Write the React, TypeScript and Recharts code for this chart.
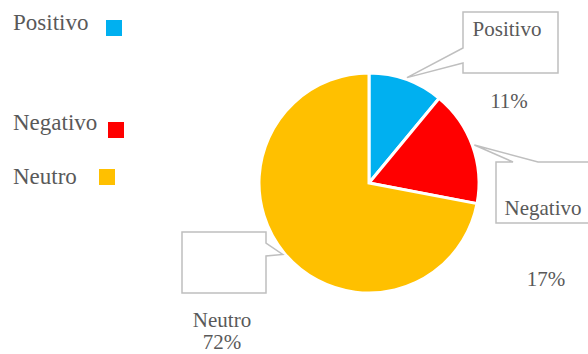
import React from 'react';
import { PieChart, Pie, Cell, Legend } from 'recharts';

const categories = ['Positivo', 'Negativo', 'Neutro'];
const values = [11, 17, 72];
const colors = ['#00B0F0', '#FF0000', '#FFC000'];

const data = categories.map((name, i) => ({ name, value: values[i] }));

const FONT = "'Liberation Serif', 'Times New Roman', Times, 'DejaVu Serif', serif";
const TEXT = '#595959';
const BORDER = '#BFBFBF';

// Callout box layouts (annotation geometry)
const CALLOUTS = [
  { l: 463, t: 12, r: 558, b: 73, side: 'left', pa: 48, pb: 63, nx: 507, ny: 36, px: 509, py: 108 },
  { l: 496, t: 162, r: 591, b: 223, side: 'top', pa: 513, pb: 538, nx: 543, ny: 215, px: 546, py: 286 },
  { l: 182, t: 232, r: 266, b: 293, side: 'right', pa: 243, pb: 256, nx: 222, ny: 327, px: 222, py: 349 },
];

const LEGEND_POS = [
  { tx: 13, ty: 30, sx: 106, sy: 20 },
  { tx: 13, ty: 130, sx: 108, sy: 122 },
  { tx: 13, ty: 184, sx: 99, sy: 169 },
];

const textStyle = { fontFamily: FONT };

const renderCallout = (props: any) => {
  const { cx, cy, midAngle, outerRadius, index, name, percent } = props;
  const RAD = Math.PI / 180;
  const tx = cx + (outerRadius + 2) * Math.cos(-midAngle * RAD);
  const ty = cy + (outerRadius + 2) * Math.sin(-midAngle * RAD);
  const c = CALLOUTS[index];
  let d = '';
  if (c.side === 'left') {
    d = `M${c.l},${c.t} H${c.r} V${c.b} H${c.l} V${c.pb} L${tx},${ty} L${c.l},${c.pa} Z`;
  } else if (c.side === 'top') {
    d = `M${c.l},${c.t} H${c.pa} L${tx},${ty} L${c.pb},${c.t} H${c.r} V${c.b} H${c.l} Z`;
  } else {
    d = `M${c.l},${c.t} H${c.r} V${c.pa} L${tx},${ty} L${c.r},${c.pb} V${c.b} H${c.l} Z`;
  }
  return (
    <g>
      <path d={d} fill="none" stroke={BORDER} strokeWidth={1.5} />
      <text x={c.nx} y={c.ny} textAnchor="middle" fill={TEXT} fontSize={21} style={textStyle}>
        {name}
      </text>
      <text x={c.px} y={c.py} textAnchor="middle" fill={TEXT} fontSize={21} style={textStyle}>
        {`${Math.round(percent * 100)}%`}
      </text>
    </g>
  );
};

const renderLegend = () => (
  <svg width={140} height={200} style={{ display: 'block' }}>
    {categories.map((name, i) => (
      <g key={name}>
        <text x={LEGEND_POS[i].tx} y={LEGEND_POS[i].ty} fill={TEXT} fontSize={23} style={textStyle}>
          {name}
        </text>
        <rect x={LEGEND_POS[i].sx} y={LEGEND_POS[i].sy} width={16} height={16} fill={colors[i]} />
      </g>
    ))}
  </svg>
);

export default function App() {
  return (
    <div style={{ position: 'absolute', left: 0, top: 0, width: 588, height: 354, background: '#fff', fontFamily: FONT }}>
      <PieChart width={588} height={354} margin={{ top: 0, right: 0, bottom: 0, left: 0 }}>
        <Legend
          content={renderLegend}
          wrapperStyle={{ position: 'absolute', left: 0, top: 0, width: 140, height: 200 }}
        />
        <Pie
          data={data}
          dataKey="value"
          nameKey="name"
          cx={369}
          cy={183}
          outerRadius={110}
          startAngle={90}
          endAngle={-270}
          stroke="#FFFFFF"
          strokeWidth={3}
          labelLine={false}
          label={renderCallout}
          isAnimationActive={false}
        >
          {data.map((d, i) => (
            <Cell key={d.name} fill={colors[i]} />
          ))}
        </Pie>
      </PieChart>
    </div>
  );
}
